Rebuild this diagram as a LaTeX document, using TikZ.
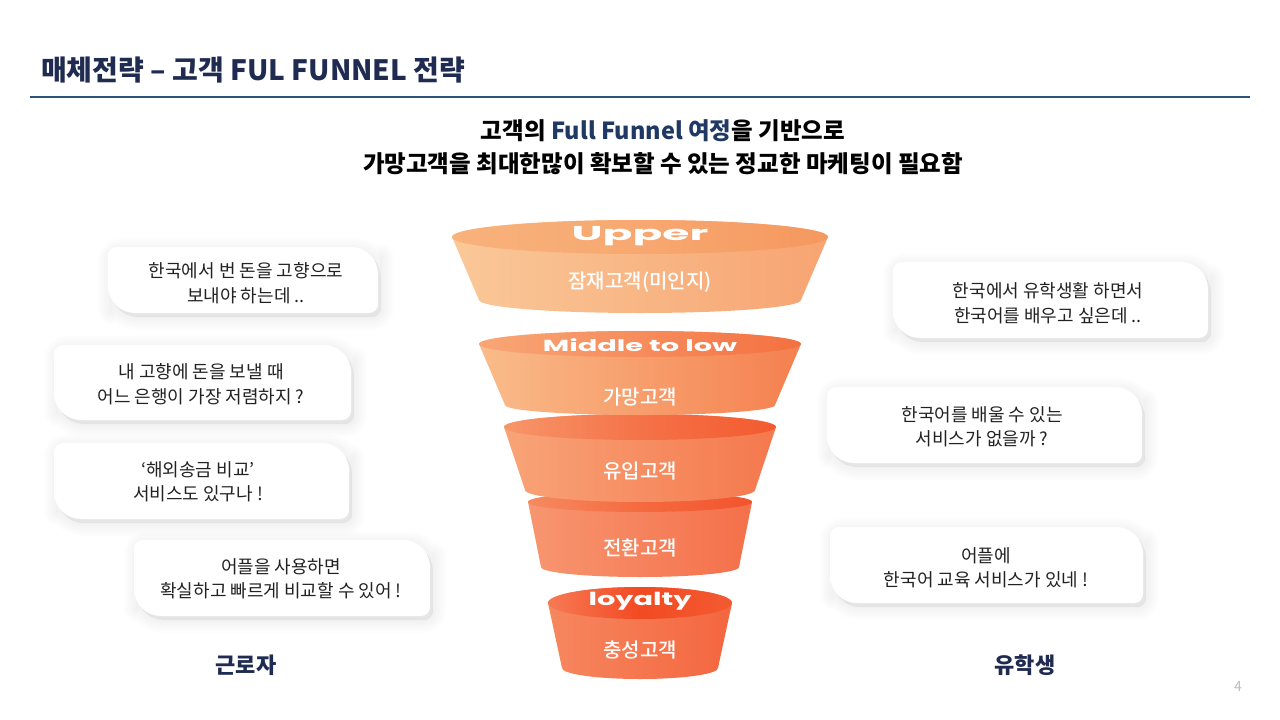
\documentclass[tikz,border=0pt]{standalone}
\usepackage{fontspec}
\usepackage{graphicx}
\setmainfont{Noto Sans CJK KR}
\newfontfamily\cjkmed{Noto Sans CJK KR Medium}
\newfontfamily\popf{Poppins}
\definecolor{navy}{HTML}{1F2B50}
\definecolor{navyline}{HTML}{2F5378}
\definecolor{subnavy}{HTML}{1F3864}
\definecolor{txtdark}{HTML}{222222}
\definecolor{pagegray}{HTML}{BDBDBD}
\newcommand\fbody[8]{%
  \definecolor{fbL}{HTML}{#7}\definecolor{fbR}{HTML}{#8}%
  \shade[left color=fbL, right color=fbR]
    ({640-#2},{-#1}) -- ({640-#5},{-#4})
    arc[start angle=180, end angle=360, x radius=#5pt, y radius=#6pt]
    -- ({640+#2},{-#1})
    arc[start angle=0, end angle=180, x radius=#2pt, y radius=#3pt] -- cycle;}
\newcommand\ftop[6]{%
  \definecolor{ftL}{HTML}{#4}\definecolor{ftM}{HTML}{#5}\definecolor{ftR}{HTML}{#6}%
  \shade[left color=ftL, right color=ftR, middle color=ftM]
    (640,{-#1}) ellipse [x radius=#2pt, y radius=#3pt];}
\newcommand\bubpath[5]{%
  \path[#5] (#1,{-(#2+#4)/2}) [rounded corners=9pt] |- ({(#1+#3)/2},-#2)
    [rounded corners=27pt] -| (#3,{-(#2+#4)/2})
    [rounded corners=9pt] |- ({(#1+#3)/2},-#4)
    [rounded corners=27pt] -| (#1,{-(#2+#4)/2}) -- cycle;}
\newcommand\bubble[4]{%
  \foreach \w in {26,22,18,14,10,6,2}{\bubpath{#1}{#2}{#3}{#4}{bubshadow, line width=\w pt}}%
  \bubpath{#1}{#2}{#3}{#4}{fill=white}}
\begin{document}
\begin{tikzpicture}[x=1pt,y=1pt,
  bubshadow/.style={draw=black, fill=black, draw opacity=0.009, fill opacity=0.009, line join=round, shift={(3pt,-4pt)}},
  bubtext/.style={align=center, text=txtdark, font=\fontsize{18}{24.5}\selectfont, inner sep=0pt},
  seglabel/.style={text=white, font=\cjkmed\fontsize{20}{24}\selectfont, inner sep=0pt},
  englabel/.style={text=white, inner sep=0pt},
  grouplabel/.style={text=navy, font=\bfseries\fontsize{22}{26}\selectfont, inner sep=0pt}]
\useasboundingbox (0,0) rectangle (1280,-720);
\fill[white] (0,0) rectangle (1280,-720);
% header
\node[anchor=west, inner sep=0pt, text=navy, font=\bfseries\fontsize{28}{30}\selectfont] (title) at (41,-70) {매체전략 – 고객 FUL FUNNEL 전략};
\coordinate (rl) at (30,-97);
\coordinate (rr) at (1250,-97);
\draw[navyline, line width=1.2pt] (rl) -- (rr);
\node[align=center, inner sep=0pt, font=\bfseries\fontsize{23.5}{33}\selectfont] (sub) at (663,-147)
  {고객의 \textcolor{subnavy}{Full Funnel 여정}을 기반으로\\가망고객을 최대한많이 확보할 수 있는 정교한 마케팅이 필요함};
% funnel (bottom to top)
\fbody{603}{92}{16}{668}{78}{11}{F6875F}{F4663F}
\ftop{603}{92}{16}{F77A55}{F24A22}{F35A32}
\fbody{502}{112}{10}{567}{99}{10}{F79670}{F4704A}
\ftop{502}{112}{10}{F68A60}{F56A40}{F2542E}
\fbody{427}{136}{13}{490}{115}{12}{F8A478}{F5784D}
\ftop{427}{136}{13}{F7966A}{F57248}{F45A30}
\fbody{344}{161}{13}{405}{135}{10}{F9BC8A}{F5804F}
\ftop{344}{161}{13}{F8A676}{F78C5C}{F47040}
\fbody{237}{188}{17}{300}{161}{13}{FAC898}{F7A472}
\ftop{237}{188}{17}{F8B27C}{F7A870}{F5985F}
\node[englabel] (eu) at (640,-236) {\scalebox{2.2}[1]{\popf\bfseries\fontsize{20}{24}\selectfont Upper}};
\node[seglabel] (s1) at (640,-282) {잠재고객(미인지)};
\node[englabel] (em) at (640,-345) {\scalebox{1.8}[1]{\popf\bfseries\fontsize{16}{20}\selectfont Middle to low}};
\node[seglabel] (s2) at (640,-397) {가망고객};
\node[seglabel] (s3) at (640,-471) {유입고객};
\node[seglabel] (s4) at (640,-548) {전환고객};
\node[englabel] (el) at (640,-601) {\scalebox{1.6}[1]{\popf\bfseries\fontsize{18}{22}\selectfont loyalty}};
\node[seglabel] (s5) at (640,-650) {충성고객};
% left bubbles
\bubble{108}{247}{378}{313}
\node[bubtext] (q1) at (246,-283) {한국에서 번 돈을 고향으로\\보내야 하는데 ..};
\bubble{54}{345}{351}{420}
\node[bubtext] (q2) at (201,-384) {내 고향에 돈을 보낼 때\\어느 은행이 가장 저렴하지 ?};
\bubble{54}{443}{349}{519}
\node[bubtext] (q3) at (198,-482) {‘해외송금 비교’\\서비스도 있구나 !};
\bubble{134}{540}{430}{616}
\node[bubtext] (q4) at (281,-579) {어플을 사용하면\\확실하고 빠르게 비교할 수 있어 !};
% right bubbles
\bubble{893}{262}{1208}{338}
\node[bubtext] (r1) at (1048,-303) {한국에서 유학생활 하면서\\한국어를 배우고 싶은데 ..};
\bubble{827}{387}{1142}{463}
\node[bubtext] (r2) at (982,-427) {한국어를 배울 수 있는\\서비스가 없을까 ?};
\bubble{830}{527}{1143}{603}
\node[bubtext] (r3) at (986,-568) {어플에\\한국어 교육 서비스가 있네 !};
% group labels
\node[grouplabel] (g1) at (246,-665) {근로자};
\node[grouplabel] (g2) at (1025,-665) {유학생};
\node[text=pagegray, inner sep=0pt, font=\fontsize{14}{16}\selectfont] (pg) at (1238,-687) {4};
\end{tikzpicture}
\end{document}
